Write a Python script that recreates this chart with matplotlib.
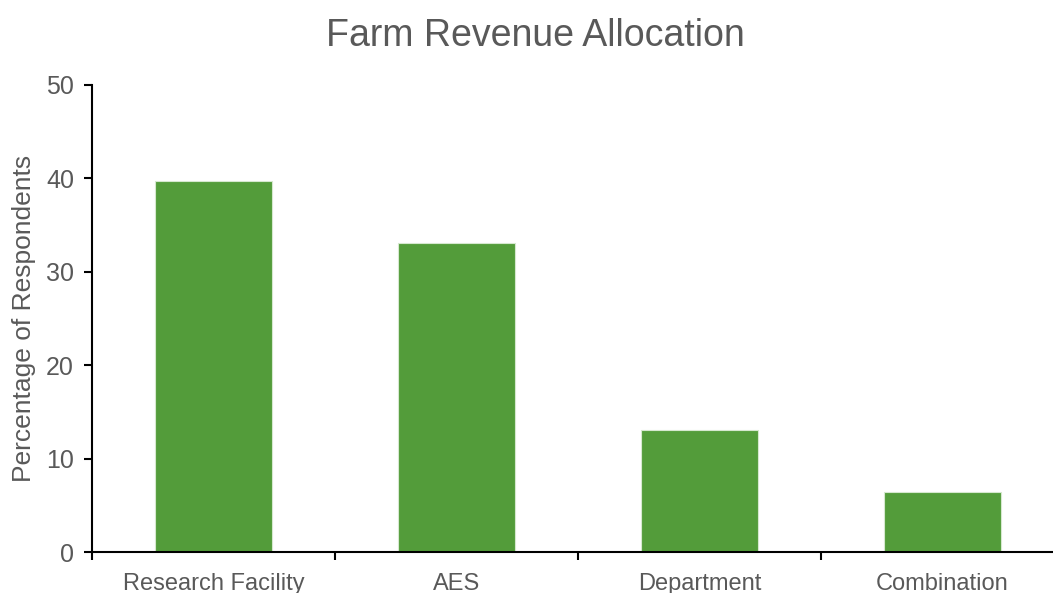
import matplotlib
matplotlib.use('Agg')
from matplotlib import pyplot as plt

# Share of respondents by where farm revenue goes
categories = ['Research Facility', 'AES', 'Department', 'Combination']
percentages = [39.7, 33.1, 13.1, 6.4]

BAR_COLOR = '#539c3a'
TEXT_COLOR = '#595959'

plt.rcParams['font.family'] = ['Liberation Sans', 'DejaVu Sans']


def plot_allocation():
    fig = plt.figure(figsize=(10.53, 5.93), dpi=100)
    # axis runs a little past the right edge, like the original
    ax = fig.add_axes([0.0874, 0.0691, 0.923, 0.7876])

    x = range(len(categories))
    ax.bar(x, percentages, width=0.48, color=BAR_COLOR,
           edgecolor='#d6e8cf', linewidth=0.8, zorder=2)

    ax.set_xlim(-0.5, len(categories) - 0.5)
    ax.set_ylim(0, 50)
    ax.set_yticks(range(0, 51, 10))

    ax.set_xticks(list(x))
    ax.set_xticklabels(categories)
    ax.set_xticks([i - 0.5 for i in range(len(categories))], minor=True)
    ax.tick_params(axis='x', which='major', length=0, pad=15,
                   labelsize=17, labelcolor=TEXT_COLOR)
    ax.tick_params(axis='x', which='minor', length=6, width=1.5,
                   direction='out', color='black')
    ax.tick_params(axis='y', length=6, width=1.5, direction='out',
                   labelsize=18, labelcolor=TEXT_COLOR, pad=7)

    for side in ('top', 'right'):
        ax.spines[side].set_visible(False)
    for side in ('left', 'bottom'):
        ax.spines[side].set_linewidth(1.5)

    ax.set_ylabel('Percentage of Respondents', fontsize=19,
                  color=TEXT_COLOR, labelpad=7)
    fig.suptitle('Farm Revenue Allocation', fontsize=27,
                 color=TEXT_COLOR, x=0.508, y=0.97)

    fig.savefig('out.png', dpi=100)


if __name__ == '__main__':
    plot_allocation()
